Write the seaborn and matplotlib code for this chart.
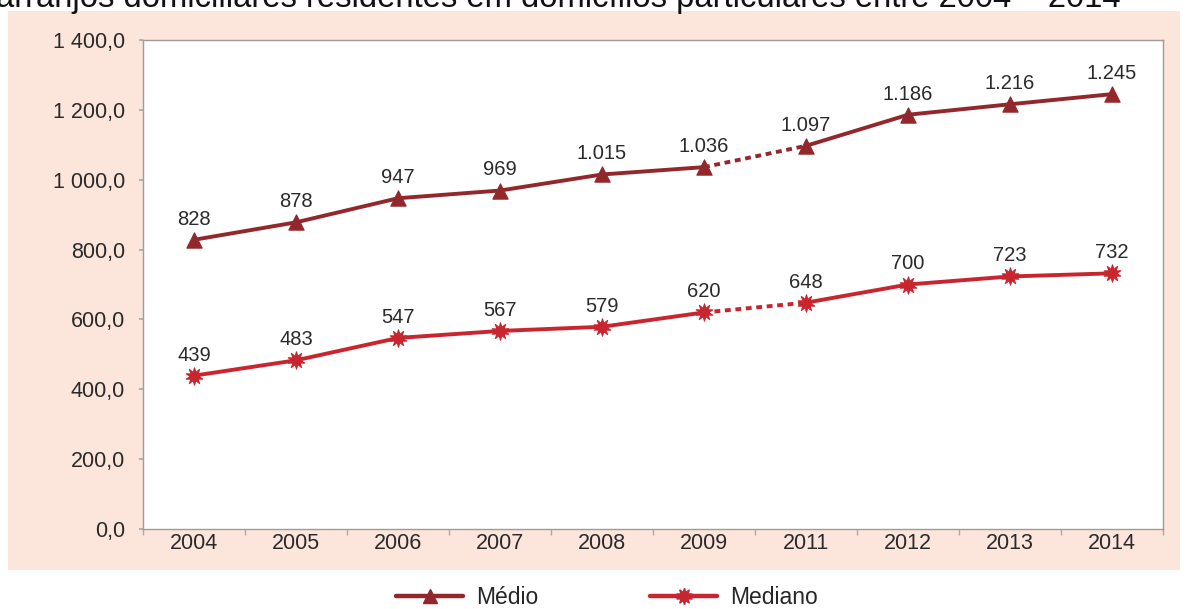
import matplotlib
matplotlib.use("Agg")
import matplotlib.pyplot as plt
from matplotlib.patches import Rectangle
from matplotlib.lines import Line2D
import seaborn as sns
import pandas as pd
import numpy as np

years = ["2004", "2005", "2006", "2007", "2008", "2009", "2011", "2012", "2013", "2014"]
medio = [828, 878, 947, 969, 1015, 1036, 1097, 1186, 1216, 1245]
mediano = [439, 483, 547, 567, 579, 620, 648, 700, 723, 732]
yticks = [0, 200, 400, 600, 800, 1000, 1200, 1400]
title = "arranjos domiciliares residentes em domicílios particulares entre 2004 – 2014"

sns.set_theme(style="white")
plt.rcParams['font.family'] = ['Liberation Sans', 'DejaVu Sans']

fig = plt.figure(figsize=(11.92, 6.09), dpi=100)
W, H = 1192, 609
bg = Rectangle((8 / W, (H - 570) / H), (1180 - 8) / W, (570 - 11) / H,
               transform=fig.transFigure, facecolor="#FCE5DB", edgecolor="none", zorder=-5)
fig.add_artist(bg)
ax = fig.add_axes([143 / W, (H - 529) / H, (1163 - 143) / W, (529 - 40) / H])
ax.set_zorder(2)
ax.set_facecolor("white")

df = pd.DataFrame({"x": np.arange(len(years)), "Médio": medio, "Mediano": mediano})
gap = 5  # index of 2009; dashed between 2009 and 2011
series = [("Médio", "#93282C", "^", 11), ("Mediano", "#C8252E", (10, 1, 0), 12.5)]
for name, col, mk, ms in series:
    seg1 = df.iloc[:gap + 1]
    seg2 = df.iloc[gap:gap + 2]
    seg3 = df.iloc[gap + 1:]
    sns.lineplot(data=seg1, x="x", y=name, ax=ax, color=col, lw=2.8, zorder=2)
    sns.lineplot(data=seg2, x="x", y=name, ax=ax, color=col, lw=2.8, linestyle=(0, (1.5, 1.2)), zorder=2)
    sns.lineplot(data=seg3, x="x", y=name, ax=ax, color=col, lw=2.8, zorder=2)
    sns.scatterplot(data=df, x="x", y=name, ax=ax, color=col, marker=mk, s=ms ** 2,
                    edgecolor=col, linewidth=0.8, zorder=3)
    for xi, v in zip(df["x"], df[name]):
        lab = f"{v // 1000}.{v % 1000:03d}" if v >= 1000 else str(v)
        ax.annotate(lab, (xi, v), xytext=(0, 8), textcoords="offset points",
                    ha="center", va="bottom", fontsize=14.5, color="#2a2a2a")

ax.set_xlim(-0.5, len(years) - 0.5)
ax.set_ylim(0, 1400)
ax.set_xticks(np.arange(len(years)))
ax.set_xticklabels(years)
ax.set_xticks(np.arange(len(years) + 1) - 0.5, minor=True)
ax.set_yticks(yticks)
ax.set_yticklabels([f"{v:,.1f}".replace(",", " ").replace(".", ",") for v in yticks])
ax.tick_params(axis="x", which="major", length=0, pad=3, labelsize=15.5, labelcolor="#2a2a2a")
ax.tick_params(axis="x", which="minor", length=4, color="#aaaaaa", bottom=True)
ax.tick_params(axis="y", length=3, color="#aaaaaa", left=True, pad=10, labelsize=15.5, labelcolor="#2a2a2a")
ax.set_xlabel("")
ax.set_ylabel("")
for s in ax.spines.values():
    s.set_color("#a09a98")
    s.set_linewidth(1.0)

handles = [Line2D([], [], color=c, lw=3.2, marker=m, markersize=ms * 0.95, markeredgecolor=c)
           for _, c, m, ms in series]
fig.legend(handles, [s[0] for s in series], loc="center", bbox_to_anchor=(607 / W, (H - 598) / H),
           ncol=2, frameon=False, fontsize=16.5, columnspacing=4.9, handlelength=2.9, handletextpad=0.57,
           borderaxespad=0, borderpad=0)

fig.text(-4 / W, (H - 7) / H, title, fontsize=23.6, color="#111111", ha="left", va="baseline")

fig.savefig("out.png", dpi=100, facecolor="white")
